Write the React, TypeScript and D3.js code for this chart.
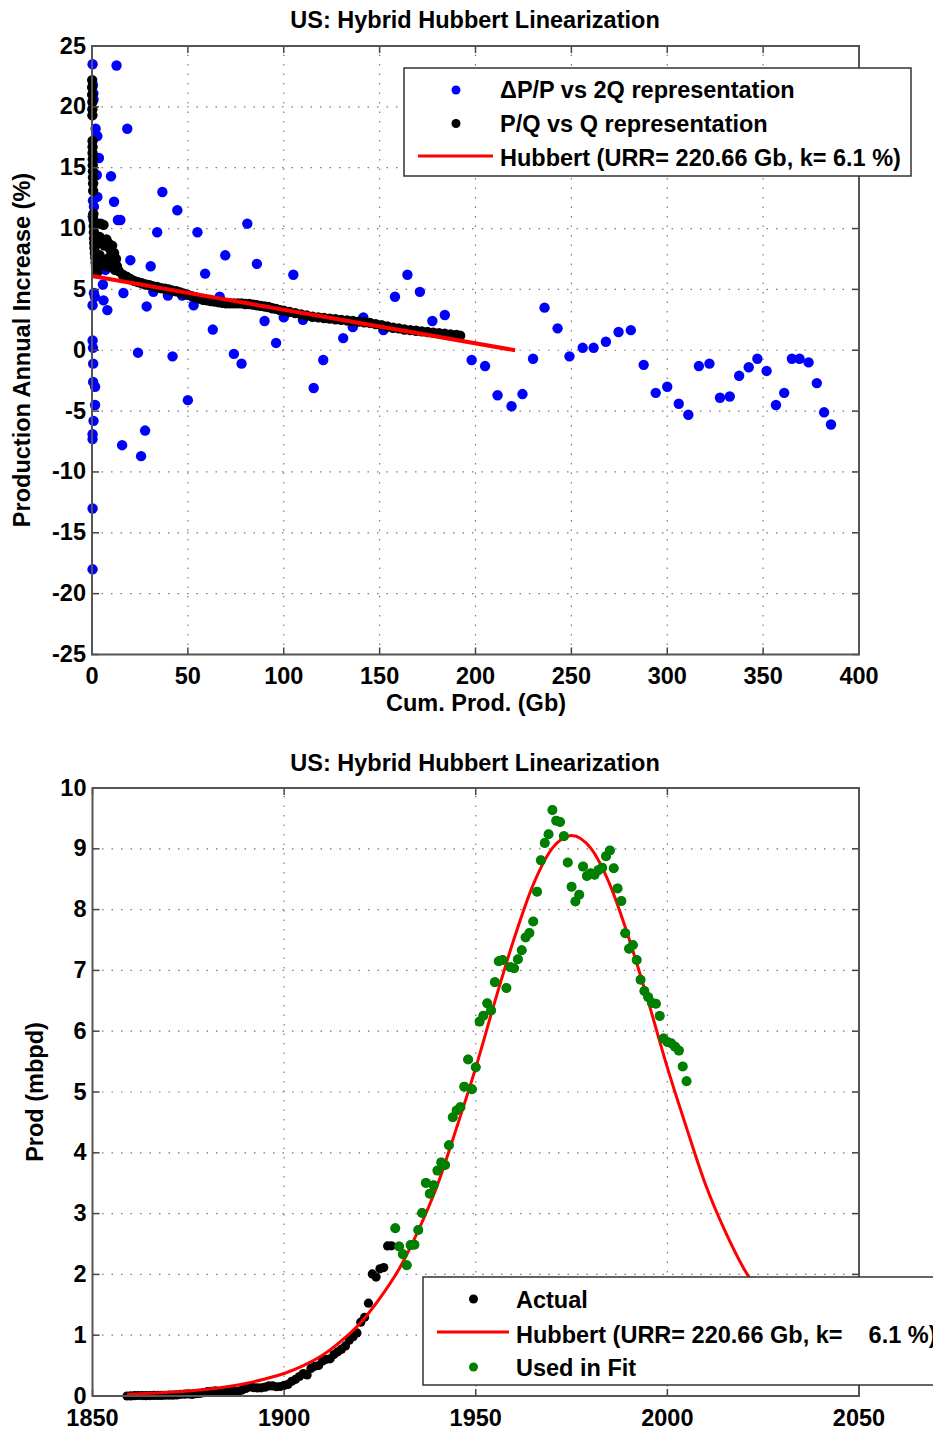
import React from "react";
import * as d3 from "d3";

// ---------- Top chart data ----------
const topXTicks = [0, 50, 100, 150, 200, 250, 300, 350, 400];
const topYTicks = [-25, -20, -15, -10, -5, 0, 5, 10, 15, 20, 25];

// ΔP/P vs 2Q representation  [cum prod (Gb), % increase]
const dPPoints: [number, number][] = [
  [0.3, 23.5], [12.8, 23.4], [0.5, 21.8], [0.7, 21.1], [0.8, 20.6], [1.9, 18.2], [18.4, 18.2],
  [2.8, 17.6], [3.6, 15.8], [2.5, 14.4], [9.9, 14.3], [36.7, 13.0], [2.8, 12.6], [0.5, 12.3],
  [11.5, 12.2], [1.0, 11.8], [44.5, 11.5], [0.4, 11.0], [13.5, 10.7], [14.8, 10.7], [81, 10.4],
  [34, 9.7], [55, 9.7], [69.5, 7.8], [20, 7.4], [86, 7.1], [30.6, 6.9], [7, 6.6], [59, 6.3],
  [5.7, 5.4], [1.0, 4.7], [16.4, 4.7], [6, 4.1], [1.5, 4.4], [0.3, 3.7], [8, 3.3], [28.5, 3.6],
  [32, 4.8], [39.6, 4.5], [47, 4.5], [66.6, 4.4], [53, 3.7], [63, 1.7], [90, 2.4], [96, 0.6],
  [0.3, 0.8], [0.5, 0.2], [24, -0.2], [42, -0.5], [74, -0.3], [78, -1.1], [0.6, -1.1],
  [0.6, -2.6], [1.6, -3.0], [50, -4.1], [1.6, -4.5], [0.8, -5.8], [0.3, -6.9], [0.3, -7.3],
  [27.7, -6.6], [15.7, -7.8], [25.6, -8.7], [0.3, -13], [0.3, -18],
  [105, 6.2], [100, 2.7], [110, 2.5], [120.6, -0.8], [115.6, -3.1], [131, 1.0], [136, 1.9],
  [141.5, 2.7], [152, 1.65], [164.5, 6.2], [158, 4.4], [171, 4.8], [177.5, 2.4], [184, 2.9],
  [198, -0.8], [205, -1.3], [211.5, -3.7], [218.8, -4.6], [224.5, -3.6], [230, -0.7], [236, 3.5],
  [242.8, 1.8], [249, -0.5], [255.9, 0.2], [261.6, 0.2], [268, 0.7], [274.6, 1.5], [281, 1.65],
  [287.7, -1.2], [294, -3.5], [300, -3.0], [306, -4.4], [311, -5.3], [316.5, -1.3], [322, -1.1],
  [327.5, -3.9], [332.6, -3.8], [337.5, -2.1], [342.5, -1.4], [347, -0.7], [351.8, -1.7],
  [356.7, -4.5], [361, -3.5], [365, -0.7], [369, -0.7], [373.7, -1.0], [378, -2.7], [381.8, -5.1],
  [385.4, -6.1],
];

// P/Q vs Q representation [cum prod (Gb), %]
const pqPoints: [number, number][] = [
  [0.1, 22.2], [0.1, 21.6], [0.1, 21.0], [0.2, 20.4], [0.2, 19.8], [0.2, 19.3], [0.3, 17.2],
  [0.3, 16.7], [0.3, 16.2], [0.4, 15.7], [0.4, 15.2], [0.5, 14.7], [0.5, 14.2], [0.6, 13.7],
  [0.6, 13.1], [0.7, 11.2], [0.8, 10.7], [0.9, 10.2], [1.0, 9.7], [1.1, 9.2], [1.2, 8.8],
  [1.3, 8.4], [1.5, 8.0], [1.7, 7.6], [1.9, 7.2], [2.1, 6.9], [2.4, 6.6], [2.7, 6.4],
  [3.2, 8.8], [4.0, 9.3], [4.5, 10.4], [6.0, 10.3], [5.5, 9.0], [6.5, 8.6], [7.5, 9.1],
  [8.5, 8.8], [9.5, 8.3], [10.5, 8.6], [11.5, 8.0], [12.5, 7.5], [4, 7.8], [5, 7.4], [6, 7.0],
  [7, 7.3], [8, 6.9], [9, 7.6], [10, 7.1], [11, 6.8], [12, 6.6], [13, 6.9],
  [14, 6.5], [16, 6.2], [18, 6.05], [20, 5.85], [22, 5.7], [24, 5.6], [26, 5.5], [28, 5.4],
  [30, 5.35], [32, 5.25], [34, 5.2], [36, 5.1], [38, 5.05], [40, 5.0], [42, 4.9], [44, 4.85],
  [46, 4.75], [48, 4.65], [50, 4.55], [52, 4.45], [54, 4.35], [56, 4.25], [58, 4.15], [60, 4.1],
  [62, 4.05], [64, 4.0], [66, 3.95], [68, 3.9], [70, 3.85], [72, 3.85], [74, 3.85], [76, 3.85],
  [78, 3.85], [80, 3.8], [82, 3.8], [84, 3.75], [86, 3.7], [88, 3.65], [90, 3.6], [92, 3.55],
  [94, 3.45], [96, 3.4], [98, 3.3], [100, 3.25], [103, 3.15], [106, 3.05], [109, 2.95],
  [112, 2.85], [115, 2.75], [118, 2.7], [121, 2.65], [124, 2.6], [127, 2.55], [130, 2.5],
  [133, 2.45], [136, 2.4], [139, 2.35], [142, 2.3], [145, 2.25], [148, 2.15], [151, 2.05],
  [154, 1.95], [157, 1.85], [160, 1.8], [163, 1.7], [166, 1.65], [169, 1.6], [172, 1.55],
  [175, 1.5], [178, 1.45], [181, 1.4], [184, 1.35], [187, 1.3], [190, 1.25], [192, 1.2],
];

// Hubbert linear fit endpoints (URR = 220.66 Gb, k = 6.1 %)
const hubbertLine: [number, number][] = [[0, 6.1], [220.66, 0]];

// ---------- Bottom chart data ----------
const botXTicks = [1850, 1900, 1950, 2000, 2050];
const botYTicks = [0, 1, 2, 3, 4, 5, 6, 7, 8, 9, 10];
const prodYears = d3.range(1859, 2006);
const fitStartYear = 1929;
const prodValues = [
  0.0, 0.001, 0.006, 0.008, 0.007, 0.006, 0.007, 0.010, 0.009, 0.010, 0.012, // 1859-1869
  0.014, 0.014, 0.017, 0.027, 0.030, 0.034, 0.025, 0.037, 0.042, 0.055, // 1870-1879
  0.072, 0.076, 0.083, 0.065, 0.066, 0.060, 0.077, 0.077, 0.076, 0.097, // 1880-1889
  0.125, 0.149, 0.139, 0.133, 0.135, 0.145, 0.166, 0.166, 0.152, 0.156, // 1890-1899
  0.174, 0.190, 0.243, 0.275, 0.321, 0.369, 0.347, 0.454, 0.489, 0.502, // 1900-1909
  0.574, 0.604, 0.611, 0.681, 0.727, 0.771, 0.823, 0.919, 0.975, 1.037, // 1910-1919
  1.214, 1.295, 1.527, 2.007, 1.956, 2.092, 2.112, 2.469, 2.470, 2.760, // 1920-1929
  2.460, 2.332, 2.151, 2.482, 2.488, 2.730, 3.011, 3.505, 3.327, 3.466, // 1930-1939
  3.707, 3.842, 3.799, 4.125, 4.584, 4.695, 4.751, 5.088, 5.535, 5.046, // 1940-1949
  5.407, 6.158, 6.256, 6.458, 6.342, 6.807, 7.151, 7.170, 6.710, 7.054, // 1950-1959
  7.035, 7.183, 7.332, 7.542, 7.614, 7.804, 8.295, 8.810, 9.096, 9.238, // 1960-1969
  9.637, 9.463, 9.441, 9.208, 8.774, 8.375, 8.132, 8.245, 8.707, 8.552, // 1970-1979
  8.597, 8.572, 8.649, 8.688, 8.879, 8.971, 8.680, 8.349, 8.140, 7.613, // 1980-1989
  7.355, 7.417, 7.171, 6.847, 6.662, 6.560, 6.465, 6.452, 6.252, 5.881, // 1990-1999
  5.822, 5.801, 5.746, 5.681, 5.419, 5.178, // 2000-2005
];
const hubbertYears = [1859, 1865, 1870, 1875, 1880, 1885, 1890, 1895, 1900, 1905, 1910, 1915, 1920,
  1925, 1930, 1935, 1940, 1945, 1950, 1955, 1960, 1965, 1970, 1975, 1980, 1985, 1990, 1995, 2000,
  2005, 2010, 2015, 2020, 2025, 2030, 2035, 2040, 2045, 2050];
const hubbertProd = [0.03, 0.045, 0.061, 0.083, 0.112, 0.152, 0.207, 0.28, 0.37, 0.50, 0.67, 0.91,
  1.21, 1.61, 2.09, 2.72, 3.47, 4.41, 5.40, 6.49, 7.52, 8.41, 9.01, 9.22, 9.01, 8.41, 7.52, 6.49,
  5.40, 4.41, 3.47, 2.72, 2.09, 1.61, 1.21, 0.91, 0.67, 0.50, 0.37];

const FONT = "'Liberation Sans', Arial, Helvetica, sans-serif";
const FS = 23.5;

function Frame({ x, y, xTicks, yTicks }: any) {
  const [x0, x1] = x.range();
  const [y0, y1] = y.range();
  const grid = "#7a7a7a";
  return (
    <g>
      {xTicks.slice(1, -1).map((t: number) => (
        <line key={"gx" + t} x1={x(t)} x2={x(t)} y1={y0} y2={y1} stroke={grid} strokeWidth={1.2} strokeDasharray="1.5,8" />
      ))}
      {yTicks.slice(1, -1).map((t: number) => (
        <line key={"gy" + t} y1={y(t)} y2={y(t)} x1={x0} x2={x1} stroke={grid} strokeWidth={1.2} strokeDasharray="1.5,8" />
      ))}
    </g>
  );
}

function Axes({ x, y, xTicks, yTicks }: any) {
  const [x0, x1] = x.range();
  const [y0, y1] = y.range();
  const c = "#444";
  const L = 7;
  return (
    <g>
      {xTicks.map((t: number) => (
        <g key={"tx" + t}>
          <line x1={x(t)} x2={x(t)} y1={y0} y2={y0 - L} stroke={c} strokeWidth={1.5} />
          <line x1={x(t)} x2={x(t)} y1={y1} y2={y1 + L} stroke={c} strokeWidth={1.5} />
          <text x={x(t)} y={y0 + 29.5} textAnchor="middle" fontSize={FS} fontWeight="bold" fontFamily={FONT}>{t}</text>
        </g>
      ))}
      {yTicks.map((t: number) => (
        <g key={"ty" + t}>
          <line y1={y(t)} y2={y(t)} x1={x0} x2={x0 + L} stroke={c} strokeWidth={1.5} />
          <line y1={y(t)} y2={y(t)} x1={x1} x2={x1 - L} stroke={c} strokeWidth={1.5} />
          <text x={x0 - 6} y={y(t) + 7.5} textAnchor="end" fontSize={FS} fontWeight="bold" fontFamily={FONT}>{t}</text>
        </g>
      ))}
      <rect x={x0} y={y1} width={x1 - x0} height={y0 - y1} fill="none" stroke="#555" strokeWidth={2} />
    </g>
  );
}

export default function App() {
  // top chart scales
  const tx = d3.scaleLinear().domain([0, 400]).range([92, 859]);
  const ty = d3.scaleLinear().domain([-25, 25]).range([654.5, 46]);
  // bottom chart scales
  const bx = d3.scaleLinear().domain([1850, 2050]).range([92.5, 859]);
  const by = d3.scaleLinear().domain([0, 10]).range([1396, 788]);

  const topLine = d3.line<[number, number]>().x(d => tx(d[0])).y(d => ty(d[1]));
  const hubData = hubbertYears.map((yr, i) => [yr, hubbertProd[i]] as [number, number]);
  const botLine = d3.line<[number, number]>().x(d => bx(d[0])).y(d => by(d[1])).curve(d3.curveMonotoneX);

  const actual = prodYears.map((yr, i) => ({ yr, p: prodValues[i] }));
  const used = actual.filter(d => d.yr >= fitStartYear);

  const textProps = { fontSize: FS, fontWeight: "bold" as const, fontFamily: FONT };

  return (
    <svg width={933} height={1429} style={{ position: "absolute", left: 0, top: 0, background: "#fff", overflow: "hidden" }}>
      <rect x={0} y={0} width={933} height={1429} fill="#fff" />
      <defs>
        <clipPath id="clipTop"><rect x={86} y={40} width={780} height={620} /></clipPath>
        <clipPath id="clipBot"><rect x={86} y={782} width={780} height={620} /></clipPath>
      </defs>
      {/* ---------- TOP CHART ---------- */}
      <text x={475} y={28} textAnchor="middle" {...textProps}>US: Hybrid Hubbert Linearization</text>
      <Frame x={tx} y={ty} xTicks={topXTicks} yTicks={topYTicks} />
      <g clipPath="url(#clipTop)">
        {dPPoints.map((d, i) => (
          <circle key={"b" + i} cx={tx(d[0])} cy={ty(d[1])} r={5.2} fill="#0000ff" />
        ))}
        {pqPoints.map((d, i) => (
          <circle key={"k" + i} cx={tx(d[0])} cy={ty(d[1])} r={5.2} fill="#000" />
        ))}
        <path d={topLine(hubbertLine) || ""} fill="none" stroke="#ff0000" strokeWidth={4} />
      </g>
      <Axes x={tx} y={ty} xTicks={topXTicks} yTicks={topYTicks} />
      <text x={476} y={711} textAnchor="middle" {...textProps}>Cum. Prod. (Gb)</text>
      <text transform="translate(30,350) rotate(-90)" textAnchor="middle" {...textProps}>Production Annual Increase (%)</text>
      {/* top legend */}
      <g>
        <rect x={404} y={68} width={507} height={108} fill="#fff" stroke="#333" strokeWidth={1.5} />
        <circle cx={456} cy={90} r={4.5} fill="#0000ff" />
        <text x={500} y={97.5} {...textProps}>ΔP/P vs 2Q representation</text>
        <circle cx={456} cy={123.5} r={4.5} fill="#000" />
        <text x={500} y={131.5} {...textProps}>P/Q vs Q representation</text>
        <line x1={418} x2={493} y1={156} y2={156} stroke="#ff0000" strokeWidth={3} />
        <text x={500} y={165.5} {...textProps}>Hubbert (URR= 220.66 Gb, k= 6.1 %)</text>
      </g>

      {/* ---------- BOTTOM CHART ---------- */}
      <text x={475} y={771} textAnchor="middle" {...textProps}>US: Hybrid Hubbert Linearization</text>
      <Frame x={bx} y={by} xTicks={botXTicks} yTicks={botYTicks} />
      <g clipPath="url(#clipBot)">
        {actual.map((d, i) => (
          <circle key={"a" + i} cx={bx(d.yr)} cy={by(d.p)} r={4.6} fill="#000" />
        ))}
        <path d={botLine(hubData) || ""} fill="none" stroke="#ff0000" strokeWidth={3} />
        {used.map((d, i) => (
          <circle key={"g" + i} cx={bx(d.yr)} cy={by(d.p)} r={5} fill="#008000" />
        ))}
      </g>
      <Axes x={bx} y={by} xTicks={botXTicks} yTicks={botYTicks} />
      <text transform="translate(43,1092) rotate(-90)" textAnchor="middle" {...textProps}>Prod (mbpd)</text>
      {/* bottom legend */}
      <g>
        <rect x={423} y={1277} width={540} height={108} fill="#fff" stroke="#333" strokeWidth={1.5} />
        <circle cx={473.5} cy={1299} r={4.5} fill="#000" />
        <text x={516} y={1308} {...textProps}>Actual</text>
        <line x1={437} x2={509} y1={1332} y2={1332} stroke="#ff0000" strokeWidth={3} />
        <text x={516} y={1343} {...textProps} style={{ whiteSpace: "pre" }}>{"Hubbert (URR= 220.66 Gb, k=    6.1 %)"}</text>
        <circle cx={473.5} cy={1367} r={4.5} fill="#008000" />
        <text x={516} y={1376} {...textProps}>Used in Fit</text>
      </g>
    </svg>
  );
}
